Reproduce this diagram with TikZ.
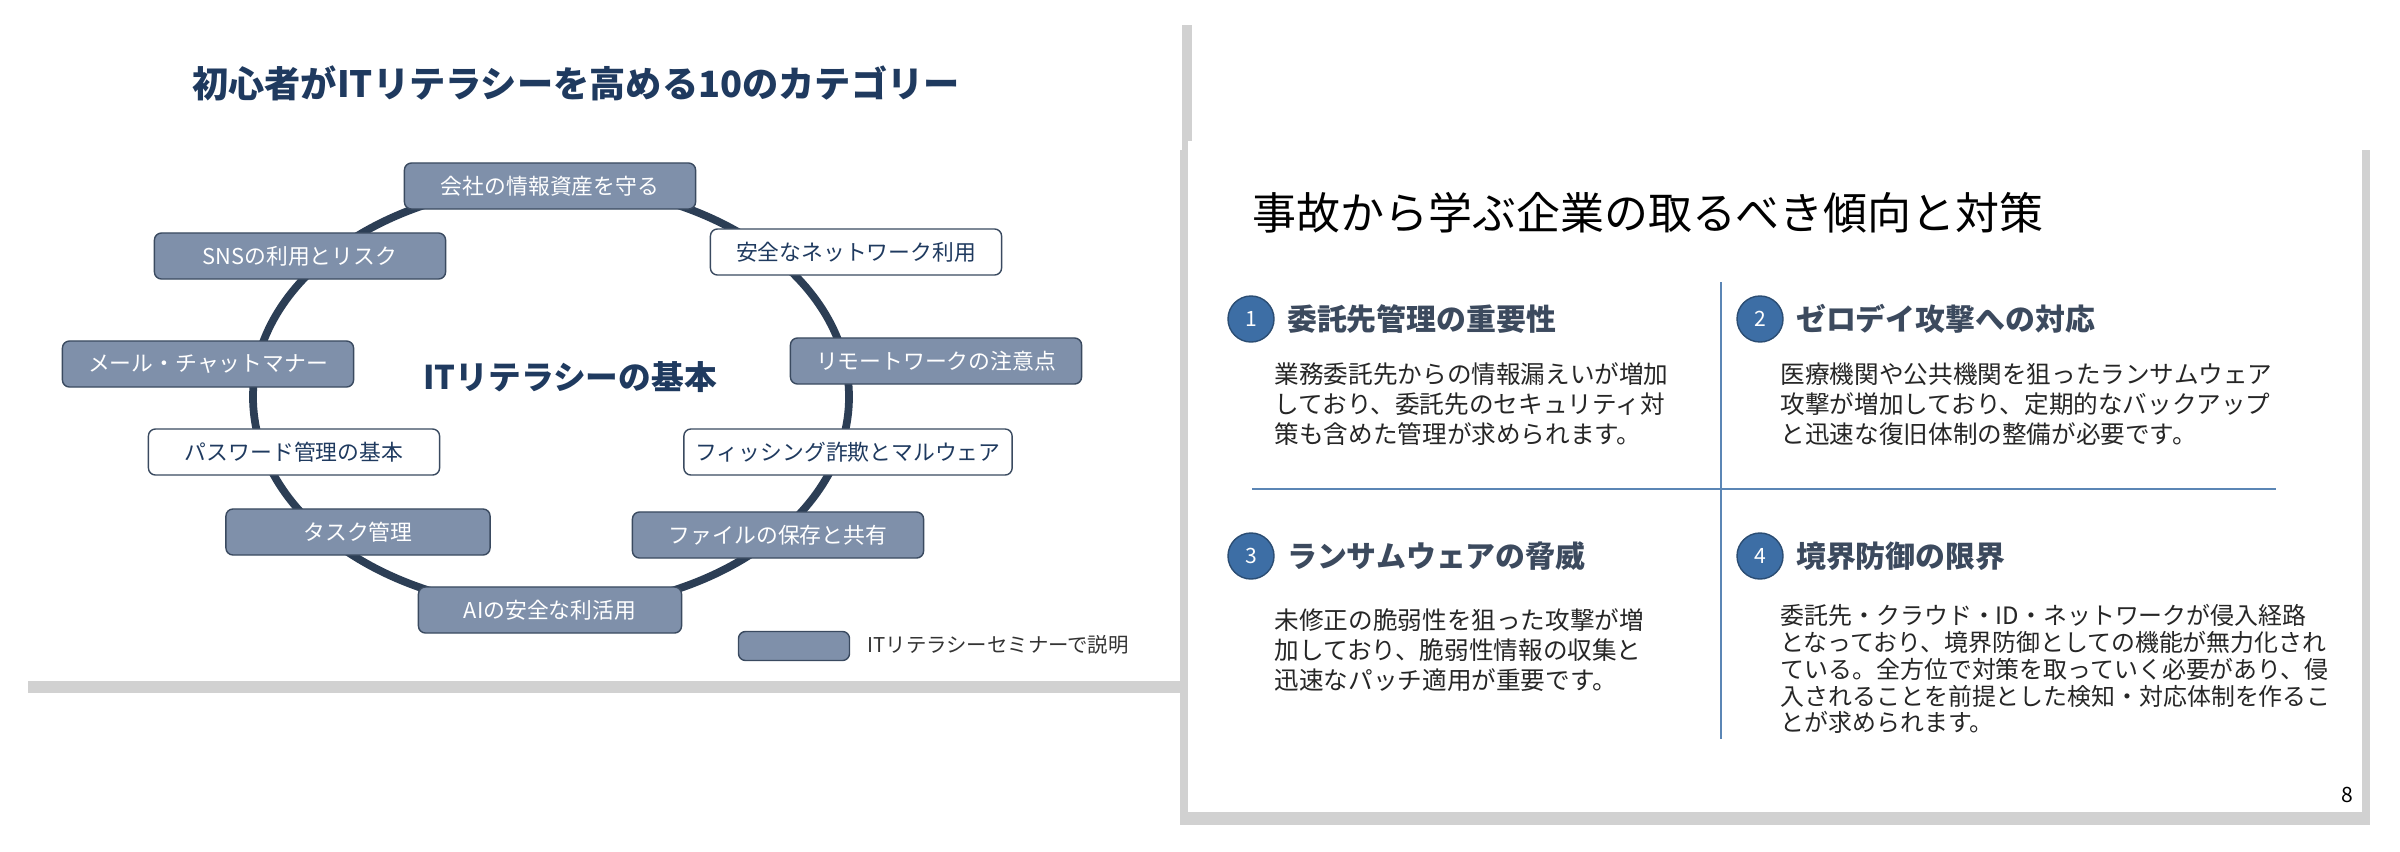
\documentclass[tikz,border=0pt]{standalone}
\usepackage{fontspec}
\setmainfont{Noto Sans CJK JP}
\usepackage{xcolor}
\usetikzlibrary{positioning,calc}
\definecolor{navy}{HTML}{1F3A5F}
\definecolor{slate}{HTML}{7F90AA}
\definecolor{rim}{HTML}{3A4A60}
\definecolor{ring}{HTML}{2C3E55}
\definecolor{steel}{HTML}{5B86B5}
\definecolor{badge}{HTML}{3D6EA5}
\definecolor{head}{HTML}{3C4A5E}
\tikzset{
  catbox/.style={draw=rim,fill=slate,text=white,rounded corners=2pt,minimum width=2.91cm,minimum height=0.46cm,font=\fontsize{6.2}{7}\selectfont},
  catboxw/.style={catbox,fill=white,text=navy},
  numdot/.style={circle,fill=badge,draw=badge!70!black,text=white,minimum size=0.46cm,inner sep=0pt,font=\fontsize{6}{7}\selectfont},
  qhead/.style={anchor=west,text=head,font=\fontsize{8.5}{10}\bfseries\selectfont},
  qbody/.style={anchor=north west,align=left,text=black!85,inner sep=0pt,font=\fontsize{7}{8.5}\selectfont}
}
\begin{document}
\begin{tikzpicture}[x=0.01cm,y=-0.01cm]
\useasboundingbox (0,0) rectangle (2400,851);
% left slide
\fill[black!18] (28,25) rectangle (1192,693);
\fill[white] (20,15) rectangle (1182,681);
\node[text=navy,font=\fontsize{10.3}{12}\bfseries\selectfont] (ttl) at (576,83) {初心者がITリテラシーを高める10のカテゴリー};
\draw[ring,line width=2.2pt] (551,397) ellipse (298 and 212);
\node[text=navy,font=\fontsize{9.3}{11}\bfseries\selectfont] (core) at (570,377) {ITリテラシーの基本};
\node[catbox] (c1) at (550,186) {会社の情報資産を守る};
\node[catboxw] (c2) at (856,252) {安全なネットワーク利用};
\node[catbox] (c3) at (936,361) {リモートワークの注意点};
\node[catboxw] (c4) at (848,452) {フィッシング詐欺とマルウェア};
\node[catbox] (c5) at (778,535) {ファイルの保存と共有};
\node[catbox,minimum width=2.63cm] (c6) at (550,610) {AIの安全な利活用};
\node[catbox,minimum width=2.64cm] (c7) at (358,532) {タスク管理};
\node[catboxw] (c8) at (294,452) {パスワード管理の基本};
\node[catbox] (c9) at (208,364) {メール・チャットマナー};
\node[catbox] (c10) at (300,256) {SNSの利用とリスク};
% legend
\node[catbox,minimum width=1.11cm,minimum height=0.29cm] (key) at (794,646) {};
\node[anchor=west,text=black!80,font=\fontsize{5.8}{7}\selectfont] (keytxt) at (855,645) {ITリテラシーセミナーで説明};
% right slide
\fill[black!18] (1180,150) rectangle (2370,825);
\fill[white] (1188,141) rectangle (2362,812);
\node[anchor=west,font=\fontsize{12.5}{14}\selectfont] (ttl2) at (1240,213) {事故から学ぶ企業の取るべき傾向と対策};
\coordinate (vtop) at (1721,282);
\coordinate (vbot) at (1721,739);
\coordinate (hl) at (1252,489);
\coordinate (hr) at (2276,489);
\draw[steel,line width=0.6pt] (vtop) -- (vbot) (hl) -- (hr);
\node[numdot] (n1) at (1251,319) {1};
\node[qhead,right=0pt of n1] (h1) {委託先管理の重要性};
\node[qbody] (b1) at (1274,362) {業務委託先からの情報漏えいが増加\\しており、委託先のセキュリティ対\\策も含めた管理が求められます。};
\node[numdot] (n2) at (1760,319) {2};
\node[qhead,right=0pt of n2] (h2) {ゼロデイ攻撃への対応};
\node[qbody] (b2) at (1780,362) {医療機関や公共機関を狙ったランサムウェア\\攻撃が増加しており、定期的なバックアップ\\と迅速な復旧体制の整備が必要です。};
\node[numdot] (n3) at (1251,556) {3};
\node[qhead,right=0pt of n3] (h3) {ランサムウェアの脅威};
\node[qbody] (b3) at (1274,608) {未修正の脆弱性を狙った攻撃が増\\加しており、脆弱性情報の収集と\\迅速なパッチ適用が重要です。};
\node[numdot] (n4) at (1760,556) {4};
\node[qhead,right=0pt of n4] (h4) {境界防御の限界};
\node[qbody,font=\fontsize{6.8}{7.6}\selectfont] (b4) at (1780,604) {委託先・クラウド・ID・ネットワークが侵入経路\\となっており、境界防御としての機能が無力化され\\ている。全方位で対策を取っていく必要があり、侵\\入されることを前提とした検知・対応体制を作るこ\\とが求められます。};
\node[font=\fontsize{6}{7}\selectfont] (pg) at (2347,795) {8};
\end{tikzpicture}
\end{document}
